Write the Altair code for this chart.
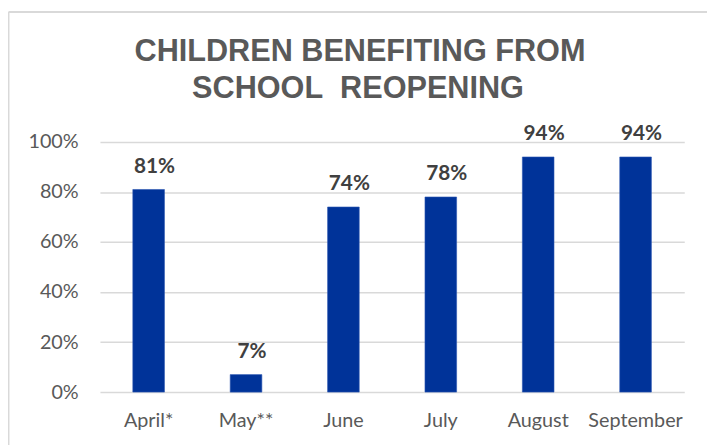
import altair as alt
import pandas as pd

months = ["April*", "May**", "June", "July", "August", "September"]
shares = [0.81, 0.07, 0.74, 0.78, 0.94, 0.94]
y_ticks = [0, 0.2, 0.4, 0.6, 0.8, 1.0]
title_line1 = "CHILDREN BENEFITING FROM"
title_line2 = "SCHOOL\u00a0\u00a0REOPENING"

df = pd.DataFrame({"month": months, "share": shares})

x_enc = alt.X("month:N", sort=months, title=None,
              scale=alt.Scale(paddingInner=0, paddingOuter=0),
              axis=alt.Axis(labelAngle=0, domain=False, ticks=False, tickSize=0,
                            labelPadding=19, labelBaseline="top",
                            labelFont="Lato", labelFontSize=20, labelColor="#595959",
                            grid=False))
y_enc = alt.Y("share:Q", title=None,
              scale=alt.Scale(domain=[0, 1], nice=False),
              axis=alt.Axis(values=y_ticks, format=".0%", domain=False, ticks=False,
                            tickSize=0, labelPadding=22, labelFont="Lato",
                            labelFontSize=20, labelColor="#595959",
                            gridColor="#D9D9D9", gridWidth=1.5))

bars = alt.Chart(df).mark_bar(size=32, color="#003399", stroke="#2A55B0",
                              strokeWidth=0.6).encode(x=x_enc, y=y_enc)

labels = alt.Chart(df).mark_text(dy=-17, dx=6, baseline="alphabetic", font="Lato",
                                 fontWeight="bold", fontSize=21,
                                 color="#404040").encode(
    x=alt.X("month:N", sort=months),
    y="share:Q",
    text=alt.Text("share:Q", format=".0%"),
)

t1 = alt.Chart(pd.DataFrame({"t": [title_line1]})).mark_text(
    font="Liberation Sans", fontWeight="bold", fontSize=31, color="#595959",
    align="center", baseline="alphabetic").encode(
    text="t:N", x=alt.value(263), y=alt.value(-82))
t2 = alt.Chart(pd.DataFrame({"t": [title_line2]})).mark_text(
    font="Liberation Sans", fontWeight="bold", fontSize=31, color="#595959",
    align="center", baseline="alphabetic").encode(
    text="t:N", x=alt.value(261), y=alt.value(-44))

border_left = alt.Chart(pd.DataFrame({"a": [0]})).mark_rule(
    color="#D9D9D9", strokeWidth=2).encode(
    x=alt.value(-92.5), y=alt.value(-131.5), y2=alt.value(330))
border_top = alt.Chart(pd.DataFrame({"a": [0]})).mark_rule(
    color="#D9D9D9", strokeWidth=2).encode(
    x=alt.value(-92.5), x2=alt.value(640), y=alt.value(-131.5))

chart = alt.layer(border_left, border_top, bars, labels, t1, t2).properties(
    width=591, height=253,
    autosize=alt.AutoSizeParams(type="none"),
    padding={"left": 93, "top": 133, "right": 23, "bottom": 51},
    background="white",
).configure_view(stroke=None)

chart.save("out.html", embed_options={"renderer": "svg", "actions": False})
